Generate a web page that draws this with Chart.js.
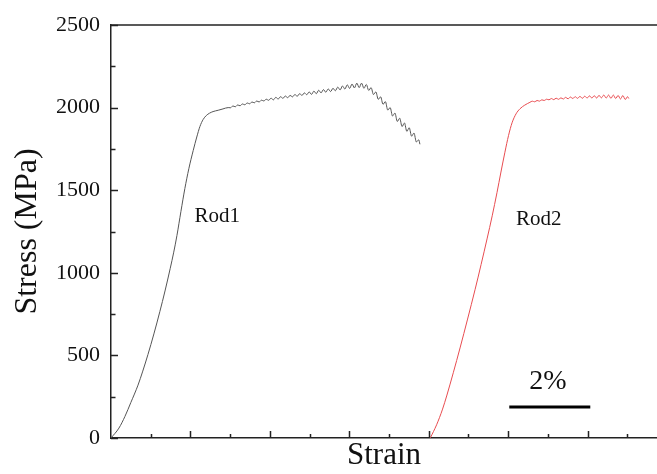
<!DOCTYPE html>
<html>
<head>
<meta charset="utf-8">
<script src="https://cdn.jsdelivr.net/npm/chart.js@4"></script>
<style>
  html, body { margin: 0; padding: 0; background: #fff; }
  #wrap { width: 657px; height: 474px; position: relative; }
</style>
</head>
<body>
<div id="wrap"><canvas id="stressChart"></canvas></div>
<script>
// strain in %, stress in MPa
const rod1Strain = [0, 0.2, 0.35, 0.5, 0.68, 0.8, 0.93, 1.08, 1.23, 1.36, 1.49, 1.58, 1.66, 1.76, 1.86, 1.96, 2.07, 2.16, 2.24, 2.32, 2.4, 2.48, 2.57, 2.7, 2.82, 2.95,
    3.01, 3.07, 3.13, 3.19, 3.25, 3.31, 3.37, 3.43, 3.49, 3.55, 3.61, 3.67, 3.73, 3.79, 3.85, 3.91, 3.97,
    4.03, 4.09, 4.15, 4.21, 4.27, 4.33, 4.39, 4.45, 4.51, 4.57, 4.63, 4.69, 4.75, 4.81, 4.87, 4.93, 4.99,
    5.05, 5.11, 5.17, 5.23, 5.29, 5.35, 5.41, 5.47, 5.53, 5.59, 5.65, 5.71, 5.77, 5.83, 5.89, 5.95,
    6.01, 6.07, 6.13, 6.19, 6.25, 6.31, 6.37, 6.43, 6.49, 6.55, 6.61, 6.67, 6.73, 6.79, 6.85, 6.91, 6.97,
    7.03, 7.09, 7.15, 7.21, 7.27, 7.33, 7.39, 7.45, 7.51, 7.57, 7.63, 7.69, 7.75, 7.78];
const rod1Stress = [0, 60, 130, 215, 320, 405, 505, 630, 765, 890, 1025, 1125, 1225, 1370, 1510, 1630, 1740, 1822, 1886, 1928, 1952, 1966, 1976, 1984, 1992, 2000,
    1999, 2010, 2005, 2016, 2011, 2022, 2017, 2028, 2023, 2034, 2029, 2040, 2034, 2045, 2040, 2051, 2044,
    2057, 2047, 2062, 2052, 2066, 2056, 2070, 2060, 2074, 2065, 2079, 2069, 2084, 2074, 2089, 2078, 2095,
    2080, 2100, 2084, 2105, 2089, 2109, 2093, 2113, 2097, 2117, 2102, 2124, 2107, 2131, 2112, 2138,
    2116, 2143, 2119, 2148, 2121, 2148, 2117, 2140, 2104, 2121, 2079, 2095, 2050, 2065, 2020, 2036, 1985,
    2000, 1949, 1967, 1916, 1936, 1885, 1907, 1856, 1878, 1827, 1846, 1792, 1805, 1778];

const rod2Strain = [8.04, 8.2, 8.35, 8.46, 8.62, 8.79, 8.98, 9.17, 9.32, 9.47, 9.6, 9.72, 9.82, 9.92, 10.01, 10.1, 10.2, 10.3, 10.42, 10.55,
    10.61, 10.67, 10.73, 10.79, 10.85, 10.91, 10.97, 11.03, 11.09, 11.15, 11.21, 11.27, 11.33, 11.39, 11.45, 11.51, 11.57, 11.63, 11.69, 11.75,
    11.81, 11.87, 11.93, 11.99, 12.05, 12.11, 12.17, 12.23, 12.29, 12.35, 12.41, 12.47, 12.53, 12.59, 12.65, 12.71, 12.77, 12.83, 12.89, 12.95, 13.01, 13.04];
const rod2Stress = [0, 80, 175, 260, 395, 545, 720, 900, 1050, 1205, 1345, 1485, 1610, 1730, 1830, 1908, 1962, 1993, 2015, 2032,
    2039, 2035, 2043, 2039, 2047, 2043, 2051, 2047, 2055, 2048, 2057, 2050, 2059, 2052, 2062, 2053, 2064, 2055, 2066, 2056,
    2068, 2056, 2069, 2058, 2071, 2058, 2072, 2058, 2074, 2059, 2076, 2058, 2076, 2056, 2076, 2055, 2074, 2052, 2073, 2049, 2066, 2055];

// 2% scale bar
const barStrain = [10.03, 12.07];
const barStress = [188, 188];

// text placed in the plot: [text, strain, stress, align, size]
const plotLabels = [
    ['Rod1', 2.1, 1343, 'left', 21],
    ['Rod2', 10.2, 1325, 'left', 21],
    ['2%', 11.0, 339, 'center', 28]
];

const yTicks = [0, 500, 1000, 1500, 2000, 2500];

const serif = '"Liberation Serif", "DejaVu Serif", serif';

const toPoints = (xs, ys) => xs.map((x, i) => ({ x, y: ys[i] }));

// frame top line, inward tick marks and in-plot text
const framePlugin = {
    id: 'frame',
    afterDraw(chart) {
        const { ctx, chartArea: a, scales: { x, y } } = chart;
        ctx.save();
        ctx.strokeStyle = '#222';
        ctx.lineWidth = 1.5;
        ctx.beginPath();
        ctx.moveTo(a.left, a.top);
        ctx.lineTo(a.right, a.top);
        ctx.stroke();

        ctx.beginPath();
        for (let v = 0; v <= 2500; v += 250) {
            const py = Math.round(y.getPixelForValue(v)) + 0.5;
            const len = v % 500 === 0 ? 7 : 4.5;
            ctx.moveTo(a.left, py);
            ctx.lineTo(a.left + len, py);
        }
        for (let v = 1; v <= 13; v++) {
            const px = Math.round(x.getPixelForValue(v)) + 0.5;
            const len = v % 2 === 0 ? 7 : 4;
            ctx.moveTo(px, a.bottom);
            ctx.lineTo(px, a.bottom - len);
        }
        ctx.stroke();

        ctx.fillStyle = '#111';
        ctx.textBaseline = 'middle';
        plotLabels.forEach(([text, sx, sy, align, size]) => {
            ctx.font = size + 'px ' + serif;
            ctx.textAlign = align;
            ctx.fillText(text, x.getPixelForValue(sx), y.getPixelForValue(sy));
        });
        ctx.restore();
    }
};

new Chart(document.getElementById('stressChart'), {
    type: 'line',
    data: {
        datasets: [
            {
                label: 'Rod1',
                data: toPoints(rod1Strain, rod1Stress),
                borderColor: '#555',
                borderWidth: 1,
                pointRadius: 0,
                cubicInterpolationMode: 'monotone'
            },
            {
                label: 'Rod2',
                data: toPoints(rod2Strain, rod2Stress),
                borderColor: '#e84c50',
                borderWidth: 1,
                pointRadius: 0,
                cubicInterpolationMode: 'monotone'
            },
            {
                label: 'bar',
                data: toPoints(barStrain, barStress),
                borderColor: '#000',
                borderWidth: 3,
                pointRadius: 0
            }
        ]
    },
    options: {
        responsive: true,
        maintainAspectRatio: false,
        animation: false,
        layout: { padding: { top: 25, right: 0, bottom: 0, left: 0 } },
        plugins: {
            legend: { display: false },
            tooltip: { enabled: false }
        },
        scales: {
            x: {
                type: 'linear',
                min: 0,
                max: 13.75,
                grid: { display: false, drawTicks: false },
                border: { display: true, color: '#222', width: 1.5 },
                ticks: { display: false },
                title: {
                    display: true,
                    text: 'Strain',
                    color: '#111',
                    font: { family: serif, size: 31 },
                    padding: 0
                },
                afterFit: scale => { scale.height = 36; }
            },
            y: {
                type: 'linear',
                min: 0,
                max: 2500,
                afterBuildTicks: scale => { scale.ticks = yTicks.map(v => ({ value: v })); },
                grid: { display: false, drawTicks: false },
                border: { display: true, color: '#222', width: 1.5 },
                ticks: {
                    color: '#111',
                    padding: 11,
                    font: { family: serif, size: 22 },
                    callback: v => String(v)
                },
                title: {
                    display: true,
                    text: 'Stress (MPa)',
                    color: '#111',
                    font: { family: serif, size: 32 },
                    padding: { top: 8, bottom: 0 }
                },
                afterFit: scale => { scale.width = 111; }
            }
        }
    },
    plugins: [framePlugin]
});
</script>
</body>
</html>
